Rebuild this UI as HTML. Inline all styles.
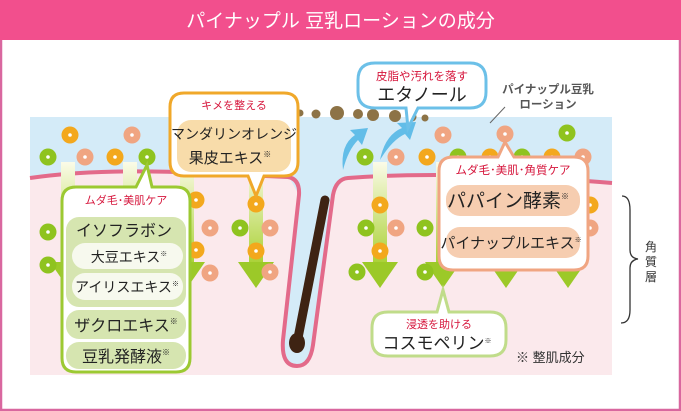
<!DOCTYPE html>
<html><head><meta charset="utf-8"><style>
html,body{margin:0;padding:0;background:#fff}
svg{display:block}
text{font-family:"Liberation Sans","Noto Sans CJK JP",sans-serif}
</style></head><body>
<svg width="681" height="411" viewBox="0 0 681 411" xmlns="http://www.w3.org/2000/svg">
<defs>
<linearGradient id="col" x1="0" y1="0" x2="0" y2="1">
<stop offset="0" stop-color="#fbfbe8"/><stop offset="1" stop-color="#a8d030"/>
</linearGradient>
<g id="dG"><circle r="8.5" fill="#8fc31f"/><circle r="1.8" fill="#fff"/></g>
<g id="dO"><circle r="8.5" fill="#f3a81d"/><circle r="1.8" fill="#fff"/></g>
<g id="dS"><circle r="8.5" fill="#f0a582"/><circle r="1.8" fill="#fff"/></g>
<g id="arr"><rect x="-7" y="0" width="14" height="105" fill="url(#col)"/><polygon points="-18,100 18,100 0,126" fill="#9cc928"/></g>
</defs>
<rect x="0" y="0" width="681" height="411" fill="#fff"/>
<rect x="1" y="1" width="679" height="409" fill="none" stroke="#d9679f" stroke-width="2.5"/>
<rect x="0" y="0" width="681" height="40" fill="#f24f8d"/>
<text x="340.5" y="27" text-anchor="middle" font-size="19" fill="#fff">パイナップル 豆乳ローションの成分</text>

<!-- layers -->
<rect x="30" y="117" width="582" height="70" fill="#d4ebf8"/>
<path d="M30,178 Q100,168 200,173 L288,177 Q300,179 299,195 L283,340 Q281,366 297,366 Q310,366 313,345 L333,195 Q336,179 348,178 Q450,170 612,183 L612,375 L30,375 Z" fill="#fbe9ec"/>
<path d="M285,170 L299,195 L283,340 Q281,366 297,366 Q310,366 313,345 L333,195 L350,170 Z" fill="#d4ebf8"/>
<path d="M30,178 Q100,168 200,173 L288,177 Q300,179 299,195 L283,340 Q281,366 297,366 Q310,366 313,345 L333,195 Q336,179 348,178 Q450,170 612,183" fill="none" stroke="#e36a8a" stroke-width="4"/>
<path d="M325,200 L298,338" stroke="#3e2313" stroke-width="9" stroke-linecap="round"/>
<ellipse cx="297" cy="343" rx="8" ry="10" fill="#3e2313"/>

<!-- arrows -->
<use href="#arr" x="68" y="162"/>
<use href="#arr" x="130" y="162"/>
<use href="#arr" x="187" y="162"/>
<use href="#arr" x="256" y="162"/>
<use href="#arr" x="380" y="162"/>
<use href="#arr" x="443" y="162"/>
<use href="#arr" x="506" y="162"/>
<use href="#arr" x="568" y="162"/>

<!-- dots -->
<use href="#dO" x="70" y="135"/><use href="#dS" x="132" y="135"/>
<use href="#dG" x="48" y="157"/><use href="#dS" x="85" y="157"/><use href="#dO" x="115" y="157"/><use href="#dG" x="147" y="157"/>
<use href="#dS" x="443" y="135"/><use href="#dS" x="505" y="134"/><use href="#dG" x="567" y="133"/>
<use href="#dG" x="365" y="157"/><use href="#dS" x="396" y="157"/><use href="#dO" x="427" y="157"/>
<use href="#dG" x="458" y="157"/><use href="#dO" x="490" y="157"/><use href="#dG" x="522" y="157"/><use href="#dO" x="552" y="157"/><use href="#dS" x="583" y="157"/>
<use href="#dG" x="48" y="232"/><use href="#dG" x="48" y="265"/>
<use href="#dO" x="196" y="200"/><use href="#dS" x="210" y="228"/><use href="#dO" x="196" y="250"/><use href="#dS" x="210" y="273"/>
<use href="#dO" x="256" y="204"/><use href="#dG" x="240" y="228"/><use href="#dS" x="270" y="228"/><use href="#dO" x="256" y="251"/><use href="#dS" x="270" y="272"/>
<use href="#dO" x="380" y="205"/><use href="#dG" x="366" y="228"/><use href="#dS" x="396" y="228"/><use href="#dO" x="380" y="251"/><use href="#dG" x="357" y="272"/>
<use href="#dG" x="425" y="228"/><use href="#dG" x="425" y="272"/>
<use href="#dS" x="590" y="228"/><use href="#dO" x="590" y="205"/>

<!-- dirt dots -->
<g fill="#8d7346">
<circle cx="300" cy="113" r="3.5"/><circle cx="316" cy="114" r="4.5"/><circle cx="337" cy="113" r="7"/><circle cx="358" cy="114" r="5"/><circle cx="373" cy="115" r="6"/><circle cx="395" cy="116" r="6"/><circle cx="412" cy="117" r="4.5"/><circle cx="425" cy="118" r="3.5"/>
</g>
<!-- blue curved arrows -->
<g fill="#62bde8">
<path d="M343,170 Q340,145 355,135 L350,130 L368,128 L362,145 L358,140 Q348,150 343,170 Z"/>
<path d="M380,160 Q385,135 402,128 L397,123 L416,122 L410,140 L405,134 Q392,140 380,160 Z"/>
</g>

<!-- orange callout -->
<path d="M184,93 H284 Q298,93 298,107 V162 Q298,176 284,176 H264 L256,196 L248,176 H184 Q170,176 170,162 V107 Q170,93 184,93 Z" fill="#fff" stroke="#f0a82a" stroke-width="3"/>
<text x="234" y="109" text-anchor="middle" font-size="11" fill="#d6163c">キメを整える</text>
<rect x="177" y="120" width="114" height="52" rx="14" fill="#f8dcaa"/>
<text x="234" y="139" text-anchor="middle" font-size="14" fill="#222">マンダリンオレンジ</text>
<text x="230" y="163" text-anchor="middle" font-size="15" fill="#222">果皮エキス<tspan font-size="8" dy="-6">※</tspan></text>

<!-- blue callout -->
<path d="M375,63 H470 Q486,63 486,80 V92 Q486,108 470,108 H418 L408,128 L406,108 H375 Q358,108 358,92 V80 Q358,63 375,63 Z" fill="#fff" stroke="#6cc0e8" stroke-width="3"/>
<text x="422" y="80" text-anchor="middle" font-size="11.5" fill="#d6163c">皮脂や汚れを落す</text>
<text x="422" y="101" text-anchor="middle" font-size="18" fill="#222">エタノール</text>

<text x="548" y="93" text-anchor="middle" font-size="11.5" font-weight="bold" fill="#555">パイナップル豆乳</text>
<text x="548" y="108" text-anchor="middle" font-size="11.5" font-weight="bold" fill="#555">ローション</text>
<line x1="505" y1="107" x2="490" y2="123" stroke="#666" stroke-width="1"/>

<!-- green callout -->
<path d="M76,187 H136 L147,165 L152,187 H176 Q190,187 190,201 V358 Q190,372 176,372 H76 Q62,372 62,358 V201 Q62,187 76,187 Z" fill="#fff" stroke="#9cc932" stroke-width="3"/>
<text x="126" y="204" text-anchor="middle" font-size="11" fill="#d6163c">ムダ毛･美肌ケア</text>
<rect x="66" y="217" width="120" height="90" rx="13" fill="#d6e5b0"/>
<text x="124" y="236" text-anchor="middle" font-size="16" fill="#222">イソフラボン</text>
<rect x="72" y="243" width="111" height="26" rx="13" fill="#f7f9ee"/>
<text x="129" y="262" text-anchor="middle" font-size="14" fill="#222">大豆エキス<tspan font-size="7" dy="-6">※</tspan></text>
<rect x="72" y="273" width="111" height="27" rx="13" fill="#f7f9ee"/>
<text x="127" y="292" text-anchor="middle" font-size="14" fill="#222">アイリスエキス<tspan font-size="7" dy="-6">※</tspan></text>
<rect x="66" y="310" width="120" height="29" rx="13" fill="#d6e5b0"/>
<text x="126" y="331" text-anchor="middle" font-size="16" fill="#222">ザクロエキス<tspan font-size="8" dy="-7">※</tspan></text>
<rect x="66" y="342" width="120" height="27" rx="13" fill="#d6e5b0"/>
<text x="126" y="362" text-anchor="middle" font-size="16" fill="#222">豆乳発酵液<tspan font-size="8" dy="-7">※</tspan></text>

<!-- salmon callout -->
<path d="M453,157 H498 L505,142 L514,157 H574 Q588,157 588,171 V256 Q588,270 574,270 H453 Q439,270 439,256 V171 Q439,157 453,157 Z" fill="#fff" stroke="#f0a582" stroke-width="3"/>
<text x="513" y="174" text-anchor="middle" font-size="11.5" fill="#d6163c">ムダ毛･美肌･角質ケア</text>
<rect x="446" y="185" width="134" height="31" rx="14" fill="#f6cdb0"/>
<text x="508" y="207" text-anchor="middle" font-size="19" fill="#222">パパイン酵素<tspan font-size="8" dy="-8">※</tspan></text>
<rect x="446" y="227" width="134" height="31" rx="14" fill="#f6cdb0"/>
<text x="511" y="248" text-anchor="middle" font-size="15" fill="#222">パイナップルエキス<tspan font-size="7" dy="-6">※</tspan></text>

<!-- cosmo callout -->
<path d="M388,312 H437 L443,290 L449,312 H490 Q506,312 506,328 V340 Q506,356 490,356 H388 Q372,356 372,340 V328 Q372,312 388,312 Z" fill="#fff" stroke="#c0dc8a" stroke-width="3"/>
<text x="439" y="328" text-anchor="middle" font-size="11" fill="#d6163c">浸透を助ける</text>
<text x="437" y="349" text-anchor="middle" font-size="17" fill="#222">コスモペリン<tspan font-size="7" dy="-6">※</tspan></text>

<text x="516" y="362" font-size="13" fill="#333">※ 整肌成分</text>

<!-- brace -->
<path d="M622,196 Q630,196 630,210 V250 Q630,258 638,259 Q630,260 630,268 V310 Q630,323 621,323" fill="none" stroke="#333" stroke-width="1.3"/>
<text x="651" y="251" text-anchor="middle" font-size="12" fill="#333">角</text>
<text x="651" y="266" text-anchor="middle" font-size="12" fill="#333">質</text>
<text x="651" y="281" text-anchor="middle" font-size="12" fill="#333">層</text>
</svg>
</body></html>
